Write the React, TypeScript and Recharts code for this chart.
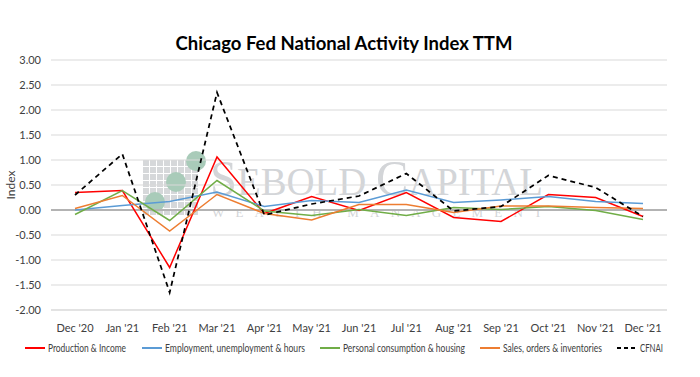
import { LineChart, Line, XAxis, YAxis, CartesianGrid, ReferenceLine } from "recharts";

const months = [
  "Dec '20", "Jan '21", "Feb '21", "Mar '21", "Apr '21", "May '21", "Jun '21",
  "Jul '21", "Aug '21", "Sep '21", "Oct '21", "Nov '21", "Dec '21",
];
const productionIncome = [0.35, 0.39, -1.15, 1.06, -0.07, 0.27, -0.01, 0.35, -0.15, -0.23, 0.31, 0.25, -0.13];
const employment = [0.0, 0.09, 0.17, 0.36, 0.07, 0.19, 0.15, 0.4, 0.15, 0.2, 0.27, 0.17, 0.13];
const personalConsumption = [-0.09, 0.39, -0.21, 0.59, -0.02, -0.11, 0.01, -0.11, 0.05, 0.01, 0.07, -0.01, -0.19];
const salesOrders = [0.03, 0.29, -0.42, 0.31, -0.07, -0.2, 0.11, 0.11, -0.05, 0.08, 0.08, 0.05, 0.03];
const cfnai = [0.3, 1.12, -1.65, 2.35, -0.1, 0.12, 0.28, 0.73, -0.02, 0.07, 0.69, 0.45, -0.13];
const yTicks = [-2, -1.5, -1, -0.5, 0, 0.5, 1, 1.5, 2, 2.5, 3];

const series = [
  { key: "prod", name: "Production & Income", color: "#ff0000", values: productionIncome, dash: undefined },
  { key: "emp", name: "Employment, unemployment & hours", color: "#5b9bd5", values: employment, dash: undefined },
  { key: "pers", name: "Personal consumption & housing", color: "#70ad47", values: personalConsumption, dash: undefined },
  { key: "sales", name: "Sales, orders & inventories", color: "#ed7d31", values: salesOrders, dash: undefined },
  { key: "cfnai", name: "CFNAI", color: "#000000", values: cfnai, dash: "5 4" },
];

const data = months.map((m, i) => {
  const row: Record<string, string | number> = { month: m };
  series.forEach((s) => (row[s.key] = s.values[i]));
  return row;
});

const font = "Lato, 'Open Sans', sans-serif";

const legendLayout = [
  { x: 25, w: 78 },
  { x: 142, w: 140 },
  { x: 320, w: 122 },
  { x: 480, w: 99 },
  { x: 617, w: 23 },
];

function Watermark() {
  const cells = [];
  for (let r = 0; r < 8; r++) {
    for (let c = 0; c < 8; c++) {
      cells.push(<rect key={`${r}-${c}`} x={143 + c * 7} y={160 + r * 7} width={6} height={6} fill="#d6d8da" />);
    }
  }
  return (
    <svg width={700} height={377} style={{ position: "absolute", left: 0, top: 0 }}>
      {cells}
      <circle cx={155} cy={202} r={10} fill="#a9cbb9" />
      <circle cx={176} cy={182} r={10} fill="#a9cbb9" />
      <circle cx={196} cy={161} r={10} fill="#a9cbb9" />
      <text x={210} y={195} fill="#d3d5d8" fontFamily="'Liberation Serif', serif" textLength={333} lengthAdjust="spacingAndGlyphs">
        <tspan fontSize={50}>S</tspan>
        <tspan fontSize={40}>EBOLD </tspan>
        <tspan fontSize={50}>C</tspan>
        <tspan fontSize={40}>APITAL</tspan>
      </text>
      <text x={212} y={217} fill="#d3d5d8" fontFamily="'Liberation Serif', serif" fontSize={13} textLength={330} lengthAdjust="spacing">
        WEALTH MANAGEMENT
      </text>
    </svg>
  );
}

function LegendRow() {
  return (
    <svg width={700} height={30} style={{ position: "absolute", left: 0, top: 335 }}>
      {series.map((s, i) => {
        const { x, w } = legendLayout[i];
        return (
          <g key={s.key}>
            <line x1={x} y1={13} x2={x + 20} y2={13} stroke={s.color} strokeWidth={2} strokeDasharray={s.dash ? "4 3" : undefined} />
            <text
              x={x + 23}
              y={17}
              fontFamily={font}
              fontSize={11}
              fill="#404040"
              textLength={w}
              lengthAdjust="spacingAndGlyphs"
            >
              {s.name}
            </text>
          </g>
        );
      })}
    </svg>
  );
}

export default function App() {
  return (
    <div style={{ position: "fixed", left: 0, top: 0, width: 700, height: 377, background: "#fff", overflow: "hidden" }}>
      <Watermark />
      <div
        style={{
          position: "absolute",
          left: 0,
          top: 32,
          width: 688,
          textAlign: "center",
          fontFamily: font,
          fontWeight: 700,
          fontSize: 18.5,
          color: "#000",
        }}
      >
        Chicago Fed National Activity Index TTM
      </div>
      <div style={{ position: "absolute", left: 0, top: 0 }}>
        <LineChart width={700} height={377} data={data} margin={{ top: 60, right: 33, bottom: 37, left: 0 }}>
          <CartesianGrid vertical={false} stroke="#d9d9d9" strokeWidth={1} />
          <XAxis
            dataKey="month"
            height={30}
            padding={{ left: 24, right: 24 }}
            tickLine={false}
            axisLine={{ stroke: "#d9d9d9" }}
            tick={{ fontSize: 11, fill: "#404040", fontFamily: font }}
            tickMargin={8}
            interval={0}
          />
          <YAxis
            width={51}
            domain={[-2, 3]}
            ticks={yTicks}
            tickFormatter={(v: number) => v.toFixed(2)}
            tickLine={false}
            axisLine={false}
            tickMargin={4}
            tick={{ fontSize: 11, fill: "#404040", fontFamily: font }}
            label={{
              value: "Index",
              angle: -90,
              position: "insideLeft",
              offset: 11,
              style: { fontSize: 12, fill: "#404040", fontFamily: font, textAnchor: "middle" },
            }}
          />
          <ReferenceLine y={0} stroke="#b3b3b3" strokeWidth={2} />
          {series.map((s) => (
            <Line
              key={s.key}
              dataKey={s.key}
              name={s.name}
              type="linear"
              stroke={s.color}
              strokeWidth={s.dash ? 1.75 : 1.5}
              strokeDasharray={s.dash}
              dot={false}
              isAnimationActive={false}
            />
          ))}
        </LineChart>
      </div>
      <LegendRow />
    </div>
  );
}
